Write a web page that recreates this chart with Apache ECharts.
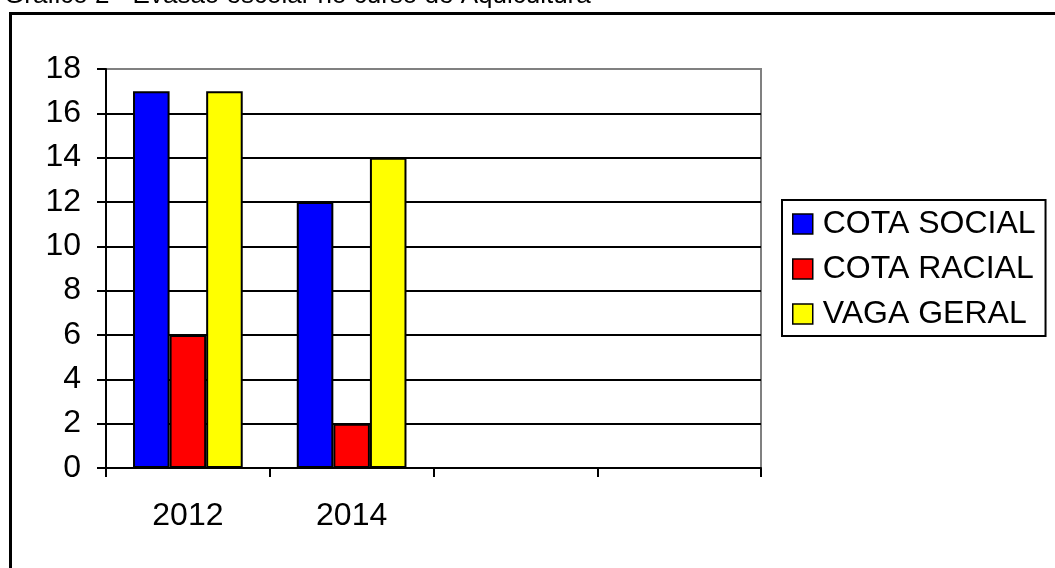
<!DOCTYPE html>
<html>
<head>
<meta charset="utf-8">
<script src="https://cdn.jsdelivr.net/npm/echarts@6/dist/echarts.min.js"></script>
<style>
  html, body { margin: 0; padding: 0; background: #fff; }
  #chart { width: 1055px; height: 568px; }
</style>
</head>
<body>
<div id="chart"></div>
<script>
// Evasão escolar por tipo de vaga, por ano de ingresso
const titleText = 'Gráfico 2 - Evasão escolar no curso de Aquicultura';
const categories = ['2012', '2014', '', ''];
const seriesNames = ['COTA SOCIAL', 'COTA RACIAL', 'VAGA GERAL'];
const cotaSocial = [17, 12, null, null];
const cotaRacial = [6, 2, null, null];
const vagaGeral = [17, 14, null, null];
const yTicks = { min: 0, max: 18, interval: 2 };

const FONT = '"Liberation Sans", Arial, sans-serif';
const colors = ['#0000FF', '#FF0000', '#FFFF00'];
const seriesValues = [cotaSocial, cotaRacial, vagaGeral];

const chart = echarts.init(document.getElementById('chart'), null, { renderer: 'canvas' });

chart.setOption({
  animation: false,
  backgroundColor: '#fff',
  textStyle: { fontFamily: FONT },
  graphic: [
    {
      type: 'rect',
      left: 8, top: 11,
      shape: { width: 1060, height: 600 },
      style: { fill: 'none', stroke: '#000', lineWidth: 3 },
      z: 0
    },
    {
      type: 'text',
      left: 4, top: -17,
      style: { text: titleText, font: '26px ' + FONT, fill: '#000' },
      z: 10
    }
  ],
  grid: {
    left: 106, right: 294, top: 69, bottom: 100,
    show: true,
    borderColor: '#808080',
    borderWidth: 2,
    backgroundColor: '#fff'
  },
  legend: {
    orient: 'vertical',
    left: 782, top: 200,
    padding: [8, 10, 6, 10],
    itemWidth: 20, itemHeight: 20, itemGap: 13,
    icon: 'rect',
    borderColor: '#000', borderWidth: 2,
    itemStyle: { borderColor: '#000', borderWidth: 1.5 },
    textStyle: { fontSize: 32, color: '#000', fontFamily: FONT, padding: [0, 10, 0, 5] },
    data: seriesNames
  },
  xAxis: {
    type: 'category',
    data: categories,
    axisLine: { show: true, lineStyle: { color: '#000', width: 2 } },
    axisTick: { show: true, length: 9, lineStyle: { color: '#000', width: 2 } },
    axisLabel: { fontSize: 32, color: '#000', margin: 32, fontFamily: FONT },
    splitLine: { show: false }
  },
  yAxis: {
    type: 'value',
    min: yTicks.min, max: yTicks.max, interval: yTicks.interval,
    axisLine: { show: true, lineStyle: { color: '#000', width: 2 } },
    axisTick: { show: true, length: 9, lineStyle: { color: '#000', width: 2 } },
    axisLabel: { fontSize: 32, color: '#000', margin: 25, fontFamily: FONT },
    splitLine: { show: true, showMaxLine: false, lineStyle: { color: '#000', width: 2 } }
  },
  series: seriesNames.map((name, i) => ({
    name,
    type: 'bar',
    data: seriesValues[i],
    barGap: '0%',
    barCategoryGap: '33%',
    itemStyle: { color: colors[i], borderColor: '#000', borderWidth: 2 }
  }))
});
</script>
</body>
</html>
